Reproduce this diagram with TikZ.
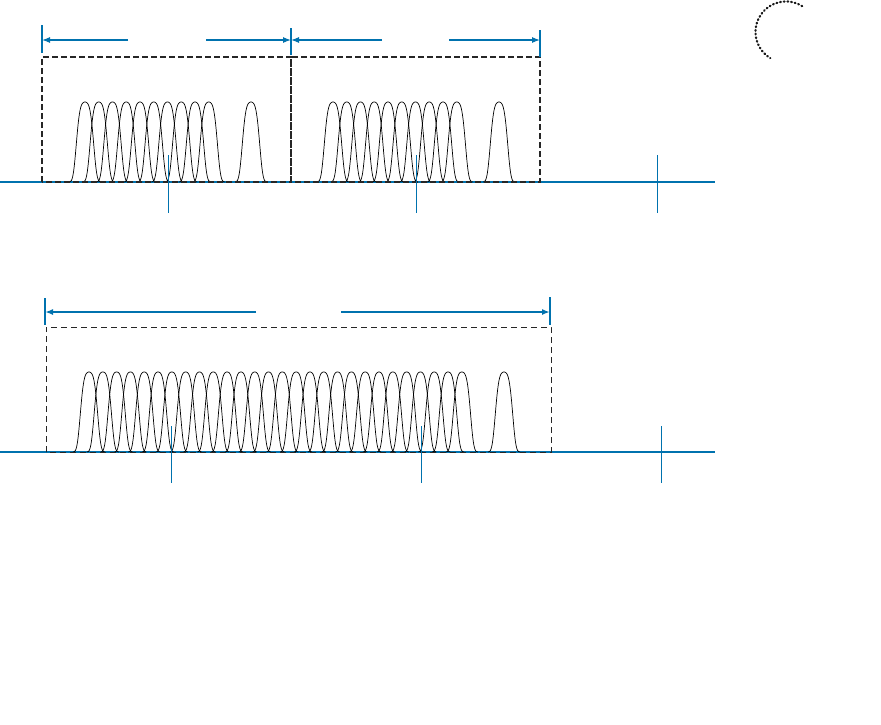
\documentclass[tikz,border=0pt]{standalone}
\usepackage{tikz}
\usetikzlibrary{arrows.meta}
\definecolor{axisblue}{HTML}{0072AE}
\definecolor{ringgray}{HTML}{1A1A1A}

\begin{document}
\begin{tikzpicture}[
    x=1pt, y=-1pt,
    axis/.style={axisblue, line width=1.4pt},
    tick/.style={axisblue, line width=0.9pt},
    marker/.style={axisblue, line width=1.2pt},
    dimarrow/.style={axisblue, line width=1.1pt, -{Latex[length=8pt, width=6pt]}},
    widearrow/.style={dimarrow, line width=1.6pt},
    slot/.style={black!85, line width=1.2pt, dash pattern=on 6pt off 3pt},
    wideslot/.style={black!85, line width=0.9pt, dash pattern=on 6pt off 4pt},
    band/.style={black, line width=0.7pt},
    ring/.style={ringgray, line width=2.2pt, line cap=round, dash pattern=on 0.8pt off 2.9pt}
]
\useasboundingbox (0,0) rectangle (881,724);

% upper spectrum: two slots
\draw[axis] (0,182) -- (715,182);
\foreach \i [evaluate=\i as \c using 85+13.75*\i] in {0,...,9}
  \draw[band] plot[domain=-1.6:1.6, samples=41, smooth] ({\c+10*\x}, {182-80*exp(-0.19*\x*\x-1.05*\x*\x*\x*\x)});
\foreach \i [evaluate=\i as \c using 333+13.75*\i] in {0,...,9}
  \draw[band] plot[domain=-1.6:1.6, samples=41, smooth] ({\c+10*\x}, {182-80*exp(-0.19*\x*\x-1.05*\x*\x*\x*\x)});
\foreach \c in {251, 499}
  \draw[band] plot[domain=-1.6:1.6, samples=41, smooth] ({\c+10*\x}, {182-80*exp(-0.19*\x*\x-1.05*\x*\x*\x*\x)});
\draw[slot] (42,182) rectangle (291,57);
\draw[slot] (291,182) rectangle (540,57);
\foreach \t in {168, 416, 657}
  \draw[tick] (\t,155) -- (\t,213);

\coordinate (s0) at (42,40);
\coordinate (s1) at (291,40);
\coordinate (s2) at (540,40);
\draw[marker] (42,25) -- (42,53);
\draw[marker] (291,28) -- (291,55);
\draw[marker] (540,30) -- (540,57);
\coordinate (g0) at (128,40);
\coordinate (g1) at (206,40);
\coordinate (g2) at (382,40);
\coordinate (g3) at (449,40);
\draw[dimarrow] (g0) -- (s0);
\draw[dimarrow] (g1) -- (s1);
\draw[dimarrow] (g2) -- (s1);
\draw[dimarrow] (g3) -- (s2);

% lower spectrum: one wide slot
\draw[axis] (0,452) -- (715,452);
\foreach \i [evaluate=\i as \c using 89+13.81*\i] in {0,...,27}
  \draw[band] plot[domain=-1.6:1.6, samples=41, smooth] ({\c+10*\x}, {452-80*exp(-0.19*\x*\x-1.05*\x*\x*\x*\x)});
\draw[band] plot[domain=-1.6:1.6, samples=41, smooth] ({504+10*\x}, {452-80*exp(-0.19*\x*\x-1.05*\x*\x*\x*\x)});
\draw[wideslot] (46,452) rectangle (551,327);
\foreach \t in {171, 421, 661}
  \draw[tick] (\t,426) -- (\t,483);

\coordinate (w0) at (45,312);
\coordinate (w1) at (550,312);
\draw[marker] (45,298) -- (45,325);
\draw[marker] (550,297) -- (550,325);
\coordinate (h0) at (256,312);
\coordinate (h1) at (341,312);
\draw[widearrow] (h0) -- (w0);
\draw[widearrow] (h1) -- (w1);

% dotted ring
\coordinate (rc) at (786,32);
\draw[ring] (rc) ++(-58:30.5) arc[start angle=-58, end angle=-239, radius=30.5];
\end{tikzpicture}
\end{document}
